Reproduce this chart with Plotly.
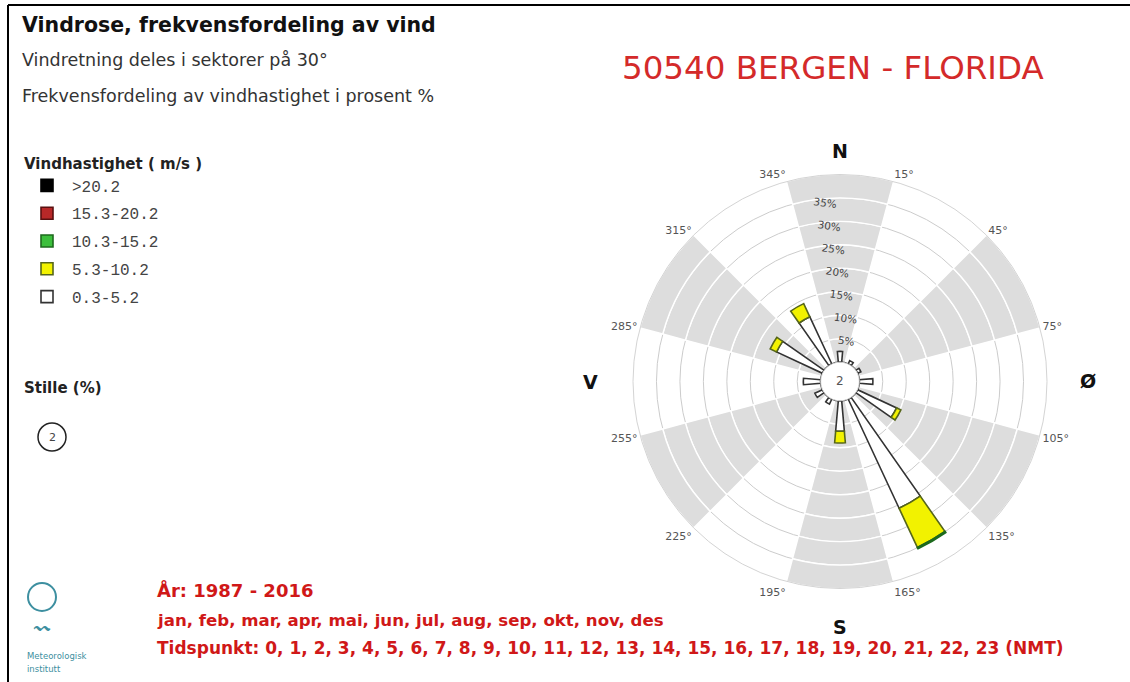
import plotly.graph_objects as go
import numpy as np

# ---------------- data ----------------
directions = [0, 30, 60, 90, 120, 150, 180, 210, 240, 270, 300, 330]
speed_classes = ["0.3-5.2", "5.3-10.2", "10.3-15.2", "15.3-20.2", ">20.2"]
freq_0_3_5_2 = [2.3, 0.8, 0.8, 2.9, 9.2, 25.7, 6.5, 1.2, 1.8, 3.7, 10.8, 11.1]
freq_5_3_10_2 = [0.0, 0.0, 0.0, 0.0, 1.0, 9.2, 2.5, 0.0, 0.0, 0.0, 1.5, 3.1]
freq_10_3_15_2 = [0.0, 0.0, 0.0, 0.0, 0.0, 0.3, 0.0, 0.0, 0.0, 0.0, 0.0, 0.0]
freq_15_3_20_2 = [0.0] * 12
freq_gt_20_2 = [0.0] * 12
calm_pct = 2
ring_levels = [5, 10, 15, 20, 25, 30, 35, 40]
boundary_angles = [15, 45, 75, 105, 135, 165, 195, 225, 255, 285, 315, 345]
shaded_sectors = [0, 60, 120, 180, 240, 300]
compass = {"N": 0, "Ø": 90, "S": 180, "V": 270}
hours = list(range(24))

W, H = 1130, 682
CX, CY, R = 840, 381.5, 207


def px(x, y):
    return x / W, 1 - y / H


fig = go.Figure()

# shaded background sectors, built of ring segments with white outlines
bg_theta, bg_base = [], []
for s in shaded_sectors:
    for lo in [0] + ring_levels[:-1]:
        bg_theta.append(s)
        bg_base.append(lo)
bg_r = [ring_levels[0]] * len(bg_theta)
fig.add_trace(go.Barpolar(
    r=bg_r, theta=bg_theta, base=bg_base, width=[30] * len(bg_theta),
    marker=dict(color="#dddddd", line=dict(color="white", width=1.4)),
    showlegend=False, hoverinfo="skip"))

series = [freq_0_3_5_2, freq_5_3_10_2, freq_10_3_15_2, freq_15_3_20_2, freq_gt_20_2]
fills = ["#ffffff", "#f2f200", "#3cbf3c", "#b82828", "#000000"]
lines = ["#333333", "#56661a", "#1d6a1d", "#5a1010", "#000000"]
ranks = [5, 4, 3, 2, 1]
base = np.zeros(len(directions))
for name, vals, fc, lc, rk in zip(speed_classes, series, fills, lines, ranks):
    vals = np.array(vals)
    fig.add_trace(go.Barpolar(
        r=vals, theta=directions, base=base.copy(), width=[10] * len(directions),
        name=name, legendrank=rk, legendgroup=name,
        marker=dict(color=fc, line=dict(color=lc, width=1.6)),
        hoverinfo="skip"))
    base = base + vals

# calm circle at the hole edge
circ_theta = list(range(0, 361, 3))
fig.add_trace(go.Scatterpolar(
    r=[0] * len(circ_theta), theta=circ_theta, mode="lines",
    line=dict(color="#222222", width=1.6), showlegend=False, hoverinfo="skip"))

x0, _ = px(CX - R, 0)
x1, _ = px(CX + R, 0)
_, y1 = px(0, CY - R)
_, y0 = px(0, CY + R)

fig.update_layout(
    width=W, height=H,
    margin=dict(l=0, r=0, t=0, b=0),
    paper_bgcolor="white",
    barmode="overlay",
    font=dict(family="DejaVu Sans", color="#333"),
    polar=dict(
        domain=dict(x=[x0, x1], y=[y0, y1]),
        hole=19.3 / R,
        bgcolor="white",
        radialaxis=dict(
            range=[0, ring_levels[-1]],
            tickmode="array",
            tickvals=ring_levels[:-1],
            ticktext=[f"{v}%" for v in ring_levels[:-1]],
            showline=False, ticks="",
            gridcolor="#cccccc", gridwidth=1,
            angle=100, tickangle=108,
            tickfont=dict(size=10.5, color="#444", family="DejaVu Sans"),
        ),
        angularaxis=dict(
            rotation=90, direction="clockwise",
            tickmode="array", tickvals=boundary_angles,
            ticktext=[f"{a}°" for a in boundary_angles],
            showgrid=False, showline=True, linecolor="#d4d4d4", linewidth=1,
            ticks="",
            tickfont=dict(size=11, color="#555", family="DejaVu Sans"),
        ),
    ),
    legend=dict(
        x=22 / W, y=1 - 149 / H, xanchor="left", yanchor="top",
        title=dict(text="<b>Vindhastighet ( m/s )</b>",
                   font=dict(size=15, family="DejaVu Sans", color="#222")),
        font=dict(size=16, family="Liberation Mono", color="#444"),
        traceorder="grouped", tracegroupgap=4,
        itemwidth=40,
        bgcolor="rgba(0,0,0,0)",
    ),
)

ann = []


def text(x, y, t, size, color="#333", bold=False, family="DejaVu Sans", xanchor="left"):
    ax, ay = px(x, y)
    ann.append(dict(x=ax, y=ay, xref="paper", yref="paper", text=(f"<b>{t}</b>" if bold else t),
                    showarrow=False, xanchor=xanchor, yanchor="middle",
                    font=dict(size=size, color=color, family=family)))


text(20, 25, "Vindrose, frekvensfordeling av vind", 20.5, "#111", bold=True)
text(20, 60, "Vindretning deles i sektorer på 30°", 17.5, "#333")
text(20, 96, "Frekvensfordeling av vindhastighet i prosent %", 17.5, "#333")
text(833, 68, "50540 BERGEN - FLORIDA", 32.5, "#d42a2a", xanchor="center")
text(22, 388, "Stille (%)", 15, "#222", bold=True)
text(52, 437, str(calm_pct), 11, "#444", xanchor="center")
text(CX, CY, str(calm_pct), 12, "#555", xanchor="center")

for lab, ang in compass.items():
    rr = {"N": 231, "S": 245, "V": 250, "Ø": 248}[lab]
    t = np.deg2rad(ang)
    text(CX + rr * np.sin(t), CY - rr * np.cos(t), lab, 19, "#111", bold=True, xanchor="center")

red = "#d01818"
bfont = "DejaVu Sans"
text(155, 590, "År: 1987 - 2016", 18, red, bold=True, family=bfont)
text(155, 620, "jan, feb, mar, apr, mai, jun, jul, aug, sep, okt, nov, des", 16.6, red, bold=True, family=bfont)
text(155, 648, "Tidspunkt: " + ", ".join(str(h) for h in hours) + " (NMT)", 17, red, bold=True, family=bfont)

# logo
teal = "#3d8fa0"
text(42, 627, "〰", 16, teal, xanchor="center")
text(25, 656, "Meteorologisk", 8.5, teal)
text(25, 669, "institutt", 8.5, teal)

fig.update_layout(annotations=ann)

shapes = []
shapes.append(dict(type="circle", xref="paper", yref="paper",
                   x0=(42 - 14) / W, x1=(42 + 14) / W, y0=1 - (597 + 14) / H, y1=1 - (597 - 14) / H,
                   line=dict(color=teal, width=2)))
shapes.append(dict(type="circle", xref="paper", yref="paper",
                   x0=(52 - 14) / W, x1=(52 + 14) / W, y0=1 - (437 + 14) / H, y1=1 - (437 - 14) / H,
                   line=dict(color="#222", width=1.5)))
# frame lines
shapes.append(dict(type="line", xref="paper", yref="paper", x0=8 / W, x1=1, y0=1 - 5 / H, y1=1 - 5 / H,
                   line=dict(color="black", width=2)))
shapes.append(dict(type="line", xref="paper", yref="paper", x0=8 / W, x1=8 / W, y0=0, y1=1 - 5 / H,
                   line=dict(color="black", width=2)))
fig.update_layout(shapes=shapes)

fig.write_html("out.html", config={"displayModeBar": False},
               post_script="document.body.style.margin='0';")
